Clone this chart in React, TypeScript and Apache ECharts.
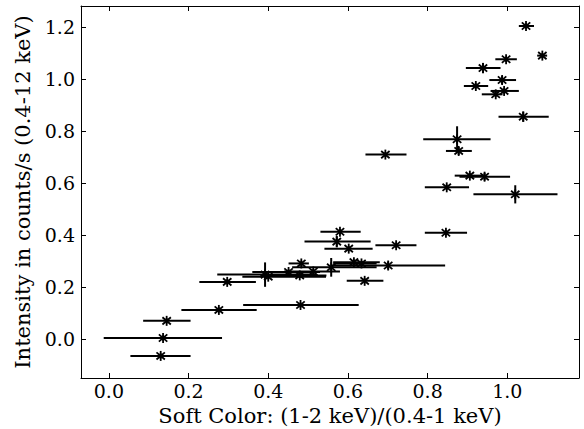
import React, { useEffect, useRef } from "react";
import * as echarts from "echarts";

// Soft colour (x), intensity (y) and error-bar extents
const xVals = [1.047, 1.088, 0.997, 0.939, 0.987, 0.921, 0.992, 0.971, 1.040, 0.874, 0.878, 0.694, 0.906, 0.943, 0.848, 1.020, 0.846, 0.580, 0.572, 0.602, 0.721, 0.701, 0.615, 0.634, 0.558, 0.513, 0.479, 0.483, 0.451, 0.392, 0.400, 0.297, 0.276, 0.481, 0.145, 0.136, 0.130, 0.642];
const yVals = [1.205, 1.091, 1.077, 1.043, 0.997, 0.974, 0.955, 0.942, 0.856, 0.769, 0.724, 0.710, 0.629, 0.625, 0.584, 0.557, 0.409, 0.413, 0.375, 0.348, 0.361, 0.283, 0.296, 0.291, 0.276, 0.260, 0.245, 0.291, 0.258, 0.248, 0.240, 0.220, 0.112, 0.131, 0.070, 0.004, -0.065, 0.224];
const xLow = [1.029, 1.075, 0.970, 0.896, 0.955, 0.891, 0.958, 0.936, 0.978, 0.789, 0.846, 0.644, 0.868, 0.880, 0.793, 0.915, 0.793, 0.531, 0.491, 0.541, 0.669, 0.560, 0.563, 0.563, 0.460, 0.440, 0.380, 0.451, 0.360, 0.272, 0.335, 0.227, 0.182, 0.337, 0.086, -0.013, 0.054, 0.597];
const xHigh = [1.067, 1.100, 1.024, 0.983, 1.022, 0.952, 1.029, 0.988, 1.104, 0.958, 0.911, 0.747, 0.945, 1.007, 0.904, 1.126, 0.899, 0.632, 0.657, 0.662, 0.772, 0.844, 0.680, 0.672, 0.672, 0.580, 0.546, 0.502, 0.530, 0.520, 0.545, 0.369, 0.371, 0.627, 0.205, 0.284, 0.205, 0.689];
const yErr = [0.01, 0.01, 0.01, 0.02, 0.015, 0.01, 0.01, 0.01, 0.02, 0.05, 0.015, 0.01, 0.01, 0.015, 0.01, 0.035, 0.01, 0.01, 0.022, 0.01, 0.01, 0.015, 0.01, 0.01, 0.036, 0.01, 0.01, 0.01, 0.01, 0.047, 0.01, 0.01, 0.01, 0.01, 0.01, 0.01, 0.01, 0.01];

const xTicks = [0.0, 0.2, 0.4, 0.6, 0.8, 1.0];
const yTicks = [0.0, 0.2, 0.4, 0.6, 0.8, 1.0, 1.2];

const FONT = "DejaVu Serif";
const FS = 19;
const TFS = 21;

export default function App() {
  const ref = useRef<HTMLDivElement>(null);
  useEffect(() => {
    if (!ref.current) return;
    const chart = echarts.init(ref.current, undefined, { renderer: "svg" });
    const data = xVals.map((x, i) => [x, yVals[i], xLow[i], xHigh[i], yErr[i]]);
    const axisCommon = {
      type: "value" as const,
      axisLine: { show: true, onZero: false, lineStyle: { color: "#000", width: 1 } },
      splitLine: { show: false },
    };
    const xAxisBase = {
      ...axisCommon,
      min: -0.07,
      max: 1.18,
      axisTick: { show: true, inside: true, length: 5, customValues: xTicks, lineStyle: { color: "#000" } },
    };
    const yAxisBase = {
      ...axisCommon,
      min: -0.15,
      max: 1.282,
      axisTick: { show: true, inside: true, length: 5, customValues: yTicks, lineStyle: { color: "#000" } },
    };
    chart.setOption({
      animation: false,
      grid: { left: 81, right: 5, top: 6, bottom: 51, containLabel: false, outerBoundsMode: "none" },
      xAxis: [
        {
          ...xAxisBase,
          position: "bottom",
          name: "Soft Color: (1-2 keV)/(0.4-1 keV)",
          nameLocation: "middle",
          nameGap: 27,
          nameTextStyle: { fontFamily: FONT, fontSize: TFS, color: "#000" },
          axisLabel: {
            show: true,
            customValues: xTicks,
            margin: 3,
            fontFamily: FONT,
            fontSize: FS,
            color: "#000",
            formatter: (v: number) => v.toFixed(1),
          },
        },
        { ...xAxisBase, position: "top", axisLabel: { show: false } },
      ],
      yAxis: [
        {
          ...yAxisBase,
          position: "left",
          name: "Intensity in counts/s (0.4-12 keV)",
          nameLocation: "middle",
          nameGap: 44,
          nameTextStyle: { fontFamily: FONT, fontSize: TFS, color: "#000" },
          axisLabel: {
            show: true,
            customValues: yTicks,
            margin: 6,
            fontFamily: FONT,
            fontSize: FS,
            color: "#000",
            formatter: (v: number) => v.toFixed(1),
          },
        },
        { ...yAxisBase, position: "right", axisLabel: { show: false } },
      ],
      series: [
        {
          type: "custom",
          xAxisIndex: 0,
          yAxisIndex: 0,
          data,
          clip: false,
          renderItem: (params: any, api: any) => {
            const x = api.value(0);
            const y = api.value(1);
            const lo = api.value(2);
            const hi = api.value(3);
            const e = api.value(4);
            const c = api.coord([x, y]);
            const pl = api.coord([lo, y]);
            const ph = api.coord([hi, y]);
            const pt = api.coord([x, y + e]);
            const pb = api.coord([x, y - e]);
            const barStyle = { stroke: "#000", lineWidth: 2 };
            const mStyle = { stroke: "#000", lineWidth: 1.8 };
            const r = 5;
            const dx = 4.2;
            const dy = 3.6;
            return {
              type: "group",
              children: [
                { type: "line", shape: { x1: pl[0], y1: pl[1], x2: ph[0], y2: ph[1] }, style: barStyle },
                { type: "line", shape: { x1: pt[0], y1: pt[1], x2: pb[0], y2: pb[1] }, style: barStyle },
                { type: "line", shape: { x1: c[0], y1: c[1] - r, x2: c[0], y2: c[1] + r }, style: mStyle },
                { type: "line", shape: { x1: c[0] - dx, y1: c[1] - dy, x2: c[0] + dx, y2: c[1] + dy }, style: mStyle },
                { type: "line", shape: { x1: c[0] - dx, y1: c[1] + dy, x2: c[0] + dx, y2: c[1] - dy }, style: mStyle },
              ],
            };
          },
        },
      ],
    });
    return () => chart.dispose();
  }, []);
  return <div ref={ref} style={{ width: 584, height: 429, position: "absolute", left: 0, top: 0 }} />;
}
